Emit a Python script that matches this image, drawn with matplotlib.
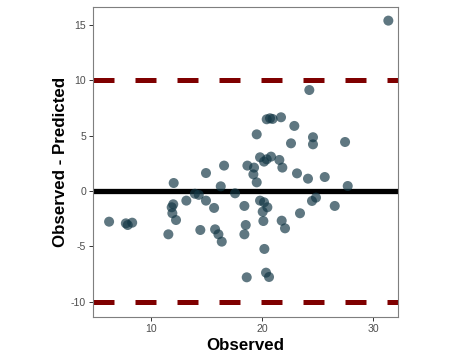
import matplotlib
matplotlib.use("Agg")
import matplotlib.pyplot as plt

observed = [31.38, 24.26, 20.42, 20.72, 20.95, 21.71, 22.91, 19.52, 22.61, 24.59,
            24.59, 27.48, 19.82, 20.18, 20.42, 20.81, 21.56, 21.83, 18.68, 19.28,
            19.22, 19.52, 16.58, 14.95, 12.04, 16.28, 23.15, 24.14, 25.65, 27.72,
            17.57, 13.95, 14.30, 13.18, 14.95, 15.68, 18.41, 19.82, 20.18, 20.48,
            20.06, 20.12, 24.50, 24.86, 26.55, 23.42, 12.00, 11.86, 11.92, 12.25,
            6.22, 7.73, 7.90, 8.30, 11.56, 14.44, 15.77, 16.07, 16.37, 18.53,
            18.41, 18.62, 20.21, 20.36, 20.63, 21.77, 22.07]
residual = [15.37, 9.11, 6.47, 6.56, 6.50, 6.65, 5.87, 5.11, 4.30, 4.85,
            4.21, 4.42, 3.04, 2.65, 2.86, 3.10, 2.80, 2.11, 2.29, 2.11,
            1.50, 0.78, 2.29, 1.62, 0.72, 0.42, 1.59, 1.11, 1.26, 0.45,
            -0.21, -0.25, -0.35, -0.87, -0.87, -1.53, -1.35, -0.87, -1.02, -1.47,
            -1.87, -2.71, -0.90, -0.60, -1.35, -2.01, -1.20, -1.47, -2.01, -2.62,
            -2.77, -2.92, -3.07, -2.86, -3.91, -3.52, -3.46, -3.91, -4.57, -3.07,
            -3.91, -7.79, -5.23, -7.37, -7.76, -2.68, -3.37]
limit_lines = [10, -10]
zero_line = 0
x_ticks = [10, 20, 30]
y_ticks = [-10, -5, 0, 5, 10, 15]

plt.rcParams['font.family'] = ['Liberation Sans', 'DejaVu Sans']
plt.rcParams['axes.unicode_minus'] = False
fig = plt.figure(figsize=(4.5, 3.6), dpi=100)
ax = fig.add_axes([93/450, 1-317/360, (398-93)/450, (317-7)/360])

for yl in limit_lines:
    ax.axhline(yl, color='#7F0000', lw=3.6, dashes=(4.2, 4.2), zorder=2)
ax.axhline(zero_line, color='black', lw=3.8, zorder=2)
ax.scatter(observed, residual, s=52, color='#133745', alpha=0.68,
           edgecolors='none', zorder=3)

ax.set_xlim(4.77, 32.25)
ax.set_ylim(-11.37, 16.6)
ax.set_xticks(x_ticks)
ax.set_yticks(y_ticks)
ax.tick_params(axis='both', length=3, width=0.7, color='#333333',
               labelcolor='#4D4D4D', labelsize=7.6, pad=2)
for s in ax.spines.values():
    s.set_color('#7F7F7F')
    s.set_linewidth(0.8)
ax.set_xlabel('Observed', fontsize=12.2, fontweight='bold', labelpad=3)
ax.set_ylabel('Observed - Predicted', fontsize=12.2, fontweight='bold', labelpad=2)

fig.savefig('out.png', dpi=100)
